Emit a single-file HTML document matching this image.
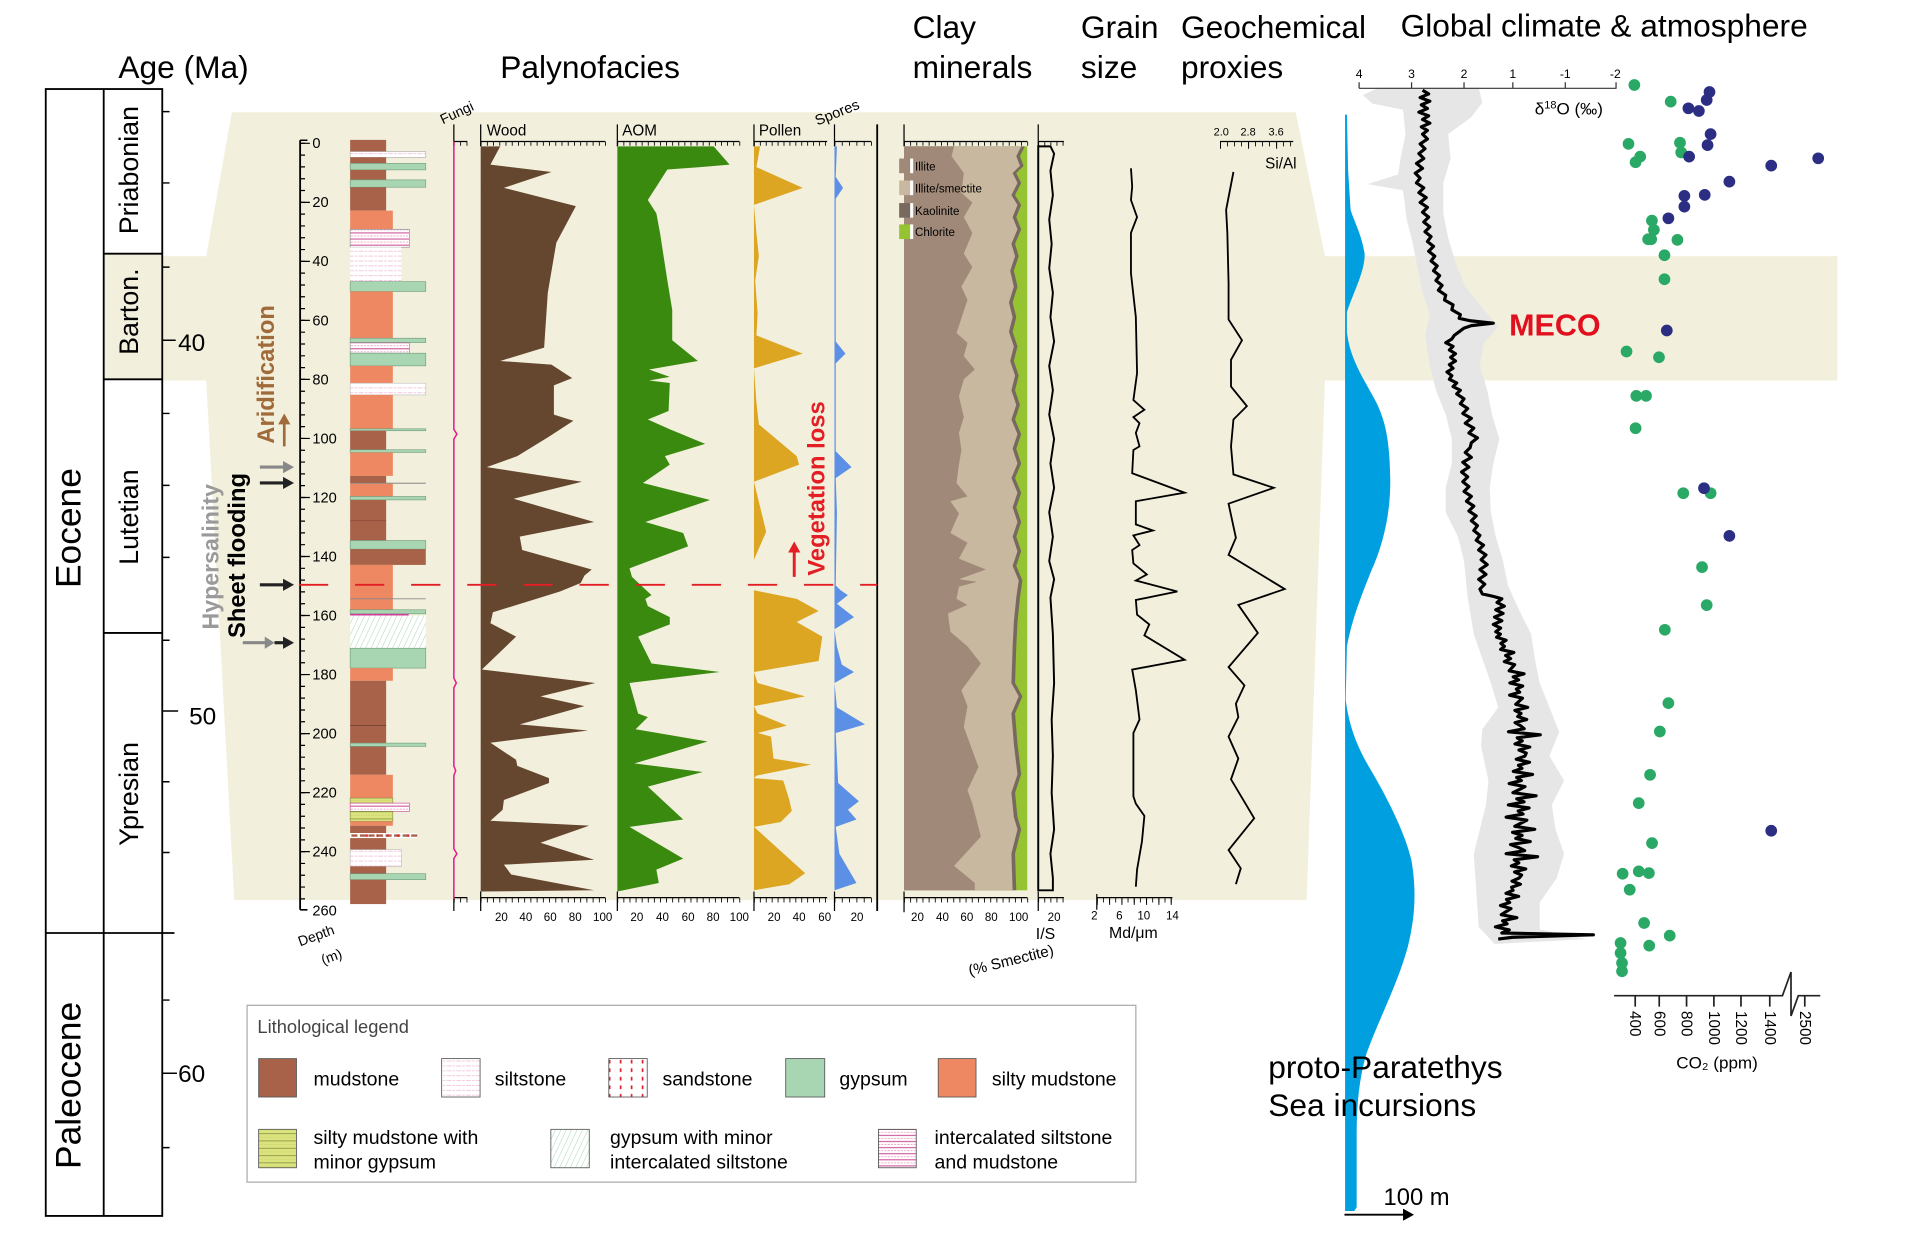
<!DOCTYPE html>
<html><head><meta charset="utf-8">
<style>
html,body{margin:0;padding:0;background:#fff;}
svg{display:block;}
text{font-family:"Liberation Sans",Arial,sans-serif;fill:#000;}
</style></head>
<body>
<svg width="1913" height="1233" viewBox="0 0 1568 1011" preserveAspectRatio="none" xmlns="http://www.w3.org/2000/svg">
<defs>
<pattern id="pSilt" width="8" height="4" patternUnits="userSpaceOnUse"><rect width="8" height="4" fill="#fff"/><line x1="0" y1="2" x2="8" y2="2" stroke="#f0b6d2" stroke-width="0.6" stroke-dasharray="2 1"/></pattern>
<pattern id="pInter" width="8" height="5" patternUnits="userSpaceOnUse"><rect width="8" height="5" fill="#fff"/><line x1="0" y1="1" x2="8" y2="1" stroke="#c8408c" stroke-width="0.8"/><line x1="0" y1="3.5" x2="8" y2="3.5" stroke="#e79ac3" stroke-width="0.6" stroke-dasharray="1.5 1"/></pattern>
<pattern id="pSand" width="9" height="7" patternUnits="userSpaceOnUse"><rect width="9" height="7" fill="#fff"/><rect x="4" y="1" width="1.4" height="3" fill="#e0202a"/></pattern>
<pattern id="pGS" width="4" height="4" patternUnits="userSpaceOnUse" patternTransform="rotate(25)"><rect width="4" height="4" fill="#fff"/><line x1="0" y1="0" x2="0" y2="4" stroke="#9ccfac" stroke-width="0.7"/></pattern>
<pattern id="pSMG" width="8" height="6" patternUnits="userSpaceOnUse"><rect width="8" height="6" fill="#dbe37f"/><line x1="0" y1="5.5" x2="8" y2="5.5" stroke="#7d8a3a" stroke-width="0.6"/><line x1="0" y1="2.5" x2="8" y2="2.5" stroke="#b9c45e" stroke-width="0.4" stroke-dasharray="1 1"/></pattern>
</defs>

<!-- beige background -->
<polygon points="190,92 1062,92 1086,210 1506,210 1506,312 1086,312 1071,738 192,738 169,312 133,312 133,210 169,210" fill="#f2f0dc"/>

<!-- Titles -->
<g font-size="26">
<text x="97" y="64">Age (Ma)</text>
<text x="410" y="64">Palynofacies</text>
<text x="748" y="31">Clay</text><text x="748" y="64">minerals</text>
<text x="886" y="31">Grain</text><text x="886" y="64">size</text>
<text x="968" y="31">Geochemical</text><text x="968" y="64">proxies</text>
<text x="1148" y="30">Global climate &amp; atmosphere</text>
</g>

<!-- Age column -->
<rect x="85" y="208" width="48" height="103" fill="#f2f0dc"/>
<g stroke="#000" stroke-width="1.5" fill="none">
<rect x="37.5" y="73" width="95.5" height="924"/>
<line x1="85" y1="73" x2="85" y2="997"/>
<line x1="85" y1="208" x2="133" y2="208"/>
<line x1="85" y1="311" x2="133" y2="311"/>
<line x1="85" y1="519" x2="133" y2="519"/>
<line x1="37.5" y1="765" x2="143" y2="765"/>
</g>
<g stroke="#000" stroke-width="1.2">
<path d="M133,91.5h6M133,150h6M133,219h6M133,339h6M133,398h6M133,457h6M133,525h6M133,641h6M133,699h6M133,820h6M133,941h6"/>
<path d="M133,279h11M133,583h13M133,880h12"/>
</g>
<g font-size="20">
<text x="146" y="288">40</text>
<text x="155" y="594">50</text>
<text x="146" y="887">60</text>
</g>
<g font-size="29">
<text transform="translate(66,433) rotate(-90)" text-anchor="middle">Eocene</text>
<text transform="translate(66,890) rotate(-90)" text-anchor="middle">Paleocene</text>
</g>
<g font-size="22">
<text transform="translate(113,139.5) rotate(-90)" text-anchor="middle">Priabonian</text>
<text transform="translate(113,255.5) rotate(-90)" text-anchor="middle">Barton.</text>
<text transform="translate(113,424) rotate(-90)" text-anchor="middle">Lutetian</text>
<text transform="translate(113,651) rotate(-90)" text-anchor="middle">Ypresian</text>
</g>

<!-- Side annotations -->
<text transform="translate(224.5,307) rotate(-90)" text-anchor="middle" font-size="19.5" font-weight="bold" style="fill:#a06a3a">Aridification</text>
<g stroke="#a06a3a" stroke-width="2.2" fill="#a06a3a"><line x1="233" y1="366" x2="233" y2="347"/><polygon points="228,348 238,348 233,339" stroke="none"/></g>
<text transform="translate(179,456.5) rotate(-90)" text-anchor="middle" font-size="19" font-weight="bold" style="fill:#9a9a9a">Hypersalinity</text>
<text transform="translate(201,455.5) rotate(-90)" text-anchor="middle" font-size="19.5" font-weight="bold">Sheet flooding</text>
<g stroke-width="2.6">
<line x1="213" y1="383" x2="233" y2="383" stroke="#888"/><polygon points="232,378 241,383 232,388" fill="#888"/>
<line x1="213" y1="396" x2="233" y2="396" stroke="#222"/><polygon points="232,391 241,396 232,401" fill="#222"/>
<line x1="213" y1="479.5" x2="233" y2="479.5" stroke="#222"/><polygon points="232,474.5 241,479.5 232,484.5" fill="#222"/>
<line x1="199" y1="527" x2="218" y2="527" stroke="#888"/><polygon points="217,522 225,527 217,532" fill="#888"/>
<line x1="225" y1="527" x2="233" y2="527" stroke="#222"/><polygon points="232,522 241,527 232,532" fill="#222"/>
</g>

<!-- Depth axis -->
<g stroke="#000" fill="none">
<line x1="246" y1="115" x2="246" y2="746" stroke-width="1.5"/>
<path d="M246,115h6M246,746h6" stroke-width="1.3"/>
<line x1="248" y1="117" x2="248" y2="746" stroke-width="4" stroke-dasharray="1 8.68"/>
<line x1="250" y1="117" x2="250" y2="746" stroke-width="8" stroke-dasharray="1 47.4"/>
</g>
<g font-size="12">
<text x="256" y="121.5">0</text><text x="256" y="169.9">20</text><text x="256" y="218.3">40</text><text x="256" y="266.7">60</text><text x="256" y="315.1">80</text><text x="256" y="363.5">100</text><text x="256" y="411.9">120</text><text x="256" y="460.3">140</text><text x="256" y="508.7">160</text><text x="256" y="557.1">180</text><text x="256" y="605.5">200</text><text x="256" y="653.9">220</text><text x="256" y="702.3">240</text><text x="256" y="750.7">260</text>
</g>
<text transform="translate(246,776) rotate(-20)" font-size="11.5">Depth</text>
<text transform="translate(265,791) rotate(-20)" font-size="11.5">(m)</text>

<!-- Lithology -->
<g stroke-width="0.5">
<rect x="287" y="114.7" width="29.5" height="9.6" fill="#a8624a"/>
<rect x="287" y="124.3" width="62" height="4.7" fill="url(#pSilt)" stroke="#aaa"/>
<rect x="287" y="129" width="29.5" height="5" fill="#a8624a"/>
<rect x="287" y="134" width="62" height="5.3" fill="#a8d6b2" stroke="#6e9a7a"/>
<rect x="287" y="139.3" width="29.5" height="8.2" fill="#a8624a"/>
<rect x="287" y="147.5" width="62" height="6" fill="#a8d6b2" stroke="#6e9a7a"/>
<rect x="287" y="153.5" width="29.5" height="19.2" fill="#a8624a"/>
<rect x="287" y="172.7" width="35" height="15.3" fill="#ee8862"/>
<rect x="287" y="188" width="48.5" height="14.7" fill="url(#pInter)" stroke="#888"/>
<rect x="287" y="202.7" width="42" height="28.2" fill="url(#pSilt)"/>
<rect x="287" y="230.9" width="62" height="8.1" fill="#a8d6b2" stroke="#6e9a7a"/>
<rect x="287" y="239" width="35" height="38.3" fill="#ee8862"/>
<rect x="287" y="277.3" width="62" height="3.6" fill="#a8d6b2" stroke="#6e9a7a"/>
<rect x="287" y="280.9" width="48.5" height="8.7" fill="url(#pInter)" stroke="#888"/>
<rect x="287" y="289.6" width="62" height="10.4" fill="#a8d6b2" stroke="#6e9a7a"/>
<rect x="287" y="300" width="35" height="14.2" fill="#ee8862"/>
<rect x="287" y="314.2" width="62" height="9.6" fill="url(#pSilt)" stroke="#bbb"/>
<rect x="287" y="323.8" width="35" height="27.8" fill="#ee8862"/>
<rect x="287" y="351.6" width="62" height="1.6" fill="#a8d6b2" stroke="#6e9a7a"/>
<rect x="287" y="353.2" width="29.5" height="15.6" fill="#a8624a"/>
<rect x="287" y="368.8" width="62" height="2.2" fill="#a8d6b2" stroke="#6e9a7a"/>
<rect x="287" y="371" width="35" height="19.2" fill="#ee8862"/>
<rect x="287" y="390.2" width="29.5" height="6" fill="#a8624a"/>
<line x1="287" y1="396.2" x2="349" y2="396.2" stroke="#777" stroke-width="0.8"/>
<rect x="287" y="396.6" width="35" height="10.5" fill="#ee8862"/>
<rect x="287" y="407.1" width="62" height="2.8" fill="#a8d6b2" stroke="#6e9a7a"/>
<rect x="287" y="409.9" width="29.5" height="33.3" fill="#a8624a"/>
<line x1="287" y1="427" x2="316.5" y2="427" stroke="#8a4a36" stroke-width="0.6"/>
<rect x="287" y="443.2" width="62" height="7.1" fill="#a8d6b2" stroke="#6e9a7a"/>
<rect x="287" y="450.3" width="62" height="12.9" fill="#a8624a"/>
<rect x="287" y="463.2" width="35" height="36.8" fill="#ee8862"/>
<line x1="287" y1="491" x2="349" y2="491" stroke="#888" stroke-width="0.8"/>
<rect x="287" y="500" width="62" height="3.3" fill="#a8d6b2" stroke="#6e9a7a"/>
<rect x="287" y="503.3" width="48" height="1.4" fill="#d0409a"/>
<rect x="287" y="504.7" width="62" height="26.8" fill="url(#pGS)"/>
<rect x="287" y="531.5" width="62" height="16.3" fill="#a8d6b2" stroke="#6e9a7a"/>
<rect x="287" y="547.8" width="35" height="10.4" fill="#ee8862"/>
<rect x="287" y="558.2" width="29.5" height="77.1" fill="#a8624a"/>
<line x1="287" y1="594.8" x2="316.5" y2="594.8" stroke="#6e3a2a" stroke-width="0.6"/>
<rect x="287" y="609.3" width="62" height="2.7" fill="#a8d6b2" stroke="#6e9a7a"/>
<rect x="287" y="635.3" width="35" height="19.1" fill="#ee8862"/>
<rect x="287" y="654.4" width="35" height="4.1" fill="url(#pSMG)" stroke="#7d8a3a"/>
<rect x="287" y="658.5" width="48.5" height="6.8" fill="url(#pInter)" stroke="#c8408c"/>
<rect x="287" y="665.3" width="35" height="8.2" fill="url(#pSMG)" stroke="#7d8a3a"/>
<rect x="287" y="673.5" width="35" height="3.6" fill="#ee8862"/>
<rect x="287" y="677.1" width="29.5" height="6" fill="#a8624a"/>
<rect x="287" y="683.1" width="55" height="4.1" fill="#fff"/>
<line x1="288" y1="685.1" x2="342" y2="685.1" stroke="#a8624a" stroke-width="2" stroke-dasharray="5 2"/>
<line x1="300" y1="685.1" x2="342" y2="685.1" stroke="#e0202a" stroke-width="2" stroke-dasharray="1.5 7"/>
<rect x="287" y="687.2" width="29.5" height="9.5" fill="#a8624a"/>
<rect x="287" y="696.7" width="42" height="13.7" fill="url(#pSilt)" stroke="#bbb"/>
<rect x="287" y="710.4" width="29.5" height="6" fill="#a8624a"/>
<rect x="287" y="716.4" width="62" height="4.9" fill="#a8d6b2" stroke="#6e9a7a"/>
<rect x="287" y="721.3" width="29.5" height="20" fill="#a8624a"/>
</g>

<!-- Column header rulers and axes -->
<g stroke="#000" stroke-width="1" fill="none">
<path d="M372,102V120M394,102V120M506,102V120M618,102V120M684,102V120M741,102V120M851,102V120"/>
<path d="M372,116H383M394,116H496M506,116H606M618,116H678M684,116H714M741,116H842M851,116H872"/>
<line x1="372" y1="117.8" x2="384" y2="117.8" stroke-width="3.5" stroke-dasharray="0.7 4.5"/>
<line x1="394" y1="117.8" x2="497" y2="117.8" stroke-width="3.5" stroke-dasharray="0.7 4.4"/>
<line x1="506" y1="117.8" x2="607" y2="117.8" stroke-width="3.5" stroke-dasharray="0.7 4.3"/>
<line x1="618" y1="117.8" x2="679" y2="117.8" stroke-width="3.5" stroke-dasharray="0.7 4.15"/>
<line x1="684" y1="117.8" x2="715" y2="117.8" stroke-width="3.5" stroke-dasharray="0.7 5.3"/>
<line x1="741" y1="117.8" x2="843" y2="117.8" stroke-width="3.5" stroke-dasharray="0.7 4.35"/>
<line x1="851" y1="117.8" x2="873" y2="117.8" stroke-width="3.5" stroke-dasharray="0.7 4.3"/>
<line x1="719" y1="102" x2="719" y2="747" stroke-width="1.5"/>
<!-- bottom rulers -->
<path d="M372,731V747M394,731V747M506,731V747M618,731V747M684,731V747M741,731V748M851,731V747M899,733V746"/>
<path d="M372,736H383M394,736H496M506,736H606M618,736H678M684,736H714M741,736H842M851,736H872M899,736H961"/>
<line x1="372" y1="738" x2="384" y2="738" stroke-width="4" stroke-dasharray="0.7 4.5"/>
<line x1="394" y1="738" x2="497" y2="738" stroke-width="4" stroke-dasharray="0.7 4.4"/>
<line x1="506" y1="738" x2="607" y2="738" stroke-width="4" stroke-dasharray="0.7 4.3"/>
<line x1="618" y1="738" x2="679" y2="738" stroke-width="4" stroke-dasharray="0.7 4.15"/>
<line x1="684" y1="738" x2="715" y2="738" stroke-width="4" stroke-dasharray="0.7 5.3"/>
<line x1="741" y1="738" x2="843" y2="738" stroke-width="4" stroke-dasharray="0.7 4.35"/>
<line x1="851" y1="738" x2="873" y2="738" stroke-width="4" stroke-dasharray="0.7 4.3"/>
<line x1="899" y1="738" x2="962" y2="738" stroke-width="4" stroke-dasharray="0.7 4.35"/>
<line x1="899" y1="739" x2="962" y2="739" stroke-width="6" stroke-dasharray="0.8 9.3"/>
</g>
<g font-size="12.5">
<text transform="translate(363,102) rotate(-25)" font-size="11.5">Fungi</text>
<text x="399" y="111">Wood</text>
<text x="510" y="111">AOM</text>
<text x="622" y="111">Pollen</text>
<text transform="translate(670,103) rotate(-22)" font-size="12">Spores</text>
</g>
<g font-size="9.5" text-anchor="middle">
<text x="411" y="755">20</text><text x="431" y="755">40</text><text x="451" y="755">60</text><text x="471.5" y="755">80</text><text x="494" y="755">100</text>
<text x="522" y="755">20</text><text x="543" y="755">40</text><text x="564" y="755">60</text><text x="584.5" y="755">80</text><text x="606" y="755">100</text>
<text x="634.5" y="755">20</text><text x="655" y="755">40</text><text x="676" y="755">60</text>
<text x="702.5" y="755">20</text>
<text x="752" y="755">20</text><text x="772.5" y="755">40</text><text x="792.5" y="755">60</text><text x="812.5" y="755">80</text><text x="835" y="755">100</text>
<text x="864" y="755">20</text>
<text x="897" y="754">2</text><text x="917.5" y="754">6</text><text x="937.5" y="754">10</text><text x="961" y="754">14</text>
</g>
<text x="849" y="770" font-size="13">I/S</text>
<text x="909" y="769" font-size="13">Md/μm</text>
<text transform="translate(795,800) rotate(-14)" font-size="12.5">(% Smectite)</text>

<!-- Fungi -->
<path d="M372,116V352L374.5,356L372,360V556L374,560L372,564V628L373.5,632L372,636V696L374.5,700L372,704V737" stroke="#e4248c" stroke-width="1.3" fill="none"/>

<!-- Wood -->
<polygon fill="#65462f" points="394,120 410,120 402,135 452,141 413,154 472,169 456,199 449,240 446,285 410,296 452,299 469,310 454,316 454,340 470,345 450,358 424,374 399,383 477,395 421,409 487,428 426,440 428,451 485,467 479,472 476,478 459,485 404,502 402,511 423,522 395,549 488,560 443,571 479,579 426,594 482,599 402,609 423,623 424,628 450,638 450,642 413,656 412,664 402,673 483,677 443,691 487,705 413,709 419,717 487,730 394,731"/>

<!-- AOM -->
<polygon fill="#3a8a10" points="506,120 585,120 598,135 574,137 547,139 531,164 538,175 541,191 547,230 551,254 551,279 572,296 532,303 549,309 532,312 549,314 548,337 531,344 549,352 578,364 545,374 549,381 527,396 582,410 529,428 560,437 564,448 516,466 518,473 534,488 529,491 531,497 549,506 549,512 523,522 534,544 590,551 516,560 523,585 531,588 521,598 580,608 520,626 576,633 531,645 560,672 516,678 560,704 538,713 540,724 506,731"/>

<!-- Pollen -->
<polygon fill="#dca623" points="618,120 623,120 620,137 658,154 618,168 620,191 622,210 619,230 621,257 620,275 658,290 618,302 620,330 622,348 653,374 655,381 618,395 628,436 618,459 618,484 653,491 671,501 653,510 674,522 671,542 618,551 621,560 660,571 618,579 621,585 645,595 621,601 632,604 634,622 665,627 620,636 618,638 642,640 647,656 649,665 640,674 618,678 660,716 647,725 618,730"/>

<!-- Spores -->
<polygon fill="#5c8fe6" points="684,120 686,120 685,145 691,154 685,163 685,280 693,290 685,298 685,370 698,383 685,392 686,420 685,480 689,484 695,488 686,495 700,506 684,516 686,530 690,545 700,551 684,560 686,580 709,594 685,601 687,642 704,657 695,664 702,672 685,678 688,700 702,724 684,730"/>

<!-- vertical red dashed -->
<line x1="245" y1="479.5" x2="719" y2="479.5" stroke="#e31e24" stroke-width="1.5" stroke-dasharray="24 22"/>
<g stroke="#e31e24" fill="#e31e24"><line x1="651" y1="473" x2="651" y2="452" stroke-width="2.4"/><polygon points="646,453 656,453 651,444" stroke="none"/></g>
<text transform="translate(676,400.5) rotate(-90)" text-anchor="middle" font-size="19.5" font-weight="bold" style="fill:#e31e24">Vegetation loss</text>

<!-- Clay minerals -->
<rect x="741" y="120" width="101" height="610" fill="#96c332"/>
<polygon fill="#78695f" points="741,120 840,120 836,128 839,136 833,142 837,150 832,160 837,168 833,178 837,188 832,200 835,210 831,222 834,235 830,248 833,260 830,272 834,284 831,296 835,308 832,320 836,332 832,344 837,356 833,368 837,380 832,392 837,404 833,416 837,428 833,440 837,452 833,464 838,476 836,490 834,510 833,530 832,560 838,571 832,585 834,610 837,635 832,650 834,670 837,680 832,700 833,730 741,730"/>
<polygon fill="#c8b8a0" points="741,120 837,120 833,128 836,136 830,142 834,150 829,160 834,168 830,178 834,188 829,200 832,210 828,222 831,235 827,248 830,260 827,272 831,284 828,296 832,308 829,320 833,332 829,344 834,356 830,368 834,380 829,392 834,404 830,416 834,428 830,440 834,452 830,464 835,476 833,490 831,510 830,530 829,560 835,571 829,585 831,610 834,635 829,650 831,670 834,680 829,700 830,730 741,730"/>
<polygon fill="#a08978" points="741,120 782,120 780,128 790,142 788,158 797,166 790,178 797,191 790,208 797,219 788,235 793,246 784,273 793,281 790,292 799,303 790,311 786,325 790,342 786,355 788,369 786,381 784,396 793,407 779,411 786,421 779,437 793,445 786,458 808,467 786,475 801,477 786,481 784,491 793,496 777,503 779,518 793,530 804,544 788,566 793,579 790,596 802,629 793,648 797,659 804,686 782,710 799,724 799,730 741,730"/>
<!-- clay legend -->
<g>
<rect x="737" y="130" width="11" height="12" fill="#a08978"/><rect x="746" y="130" width="2.5" height="12" fill="#fff"/>
<rect x="737" y="148" width="11" height="12" fill="#c8b8a0"/><rect x="746" y="148" width="2.5" height="12" fill="#fff"/>
<rect x="737" y="166.5" width="11" height="12" fill="#78695f"/><rect x="746" y="166.5" width="2.5" height="12" fill="#fff"/>
<rect x="737" y="184" width="11" height="12" fill="#96c332"/><rect x="746" y="184" width="2.5" height="12" fill="#fff"/>
</g>
<g font-size="9.5" style="fill:#222">
<text x="750" y="140">Illite</text>
<text x="750" y="158">Illite/smectite</text>
<text x="750" y="176.5">Kaolinite</text>
<text x="750" y="193.5">Chlorite</text>
</g>

<!-- I/S -->
<path d="M851,730V120H861L864,126L861,140L863,160L860,180L862,200L860,220L863,240L861,260L864,280L860,300L863,320L860,340L864,360L861,380L864,400L860,420L863,440L860,460L864,475L861,490L863,520L864,560L862,590L863,620L862,650L864,680L861,700L863,720L863,730Z" fill="none" stroke="#000" stroke-width="1.6"/>

<!-- Grain size -->
<polyline fill="none" stroke="#000" stroke-width="1.5" points="927,138 928,153 927,164 932,178 927,191 927,224 931,260 932,306 929,328 938,336 929,342 934,347 931,355 934,366 929,369 928,388 971,404 931,411 931,430 945,435 929,439 934,447 928,451 929,462 940,471 931,476 965,485 931,492 932,504 942,512 938,521 971,541 928,549 931,566 934,590 929,601 929,653 931,659 938,669 936,690 932,713 931,727"/>

<!-- Si/Al -->
<polyline fill="none" stroke="#000" stroke-width="1.5" points="1011,141 1005,172 1006,191 1007,232 1007,262 1018,279 1009,295 1009,317 1022,333 1011,344 1009,366 1011,389 1044,400 1007,413 1013,441 1007,455 1053,483 1015,496 1031,519 1007,547 1020,562 1013,577 1015,588 1007,604 1015,622 1009,639 1028,671 1007,697 1017,712 1013,725"/>
<g stroke="#000" fill="none">
<path d="M1000,116H1060" stroke-width="1"/>
<line x1="1000" y1="118" x2="1061" y2="118" stroke-width="4" stroke-dasharray="0.7 5.05"/>
<line x1="1000" y1="119" x2="1061" y2="119" stroke-width="6" stroke-dasharray="0.8 22.2"/>
</g>
<g font-size="9" text-anchor="middle"><text x="1001" y="111">2.0</text><text x="1023" y="111">2.8</text><text x="1046" y="111">3.6</text></g>
<text x="1037" y="138" font-size="12.5">Si/Al</text>

<!-- Sea incursion shape -->
<path fill="#009fe0" d="M1102.5,94 L1104,94 L1105,140 L1107,172 C1110,182 1116,192 1118.5,208 C1119,222 1110,238 1104,256 L1104,272 C1106,292 1116,308 1126,326 C1136,344 1139,362 1139.5,392 C1140,420 1134,446 1124,468 C1116,488 1108,508 1104,530 L1103,574 C1106,596 1112,612 1124,632 C1138,656 1152,684 1157,706 C1161,730 1160,752 1154,776 C1146,806 1130,836 1120,864 C1114,884 1112,906 1112,930 L1112,990 L1110,993 L1102.5,993 Z"/>
<line x1="1102" y1="996" x2="1152" y2="996" stroke="#000" stroke-width="1.6"/>
<polygon points="1150,991 1159,996 1150,1001" fill="#000"/>
<text x="1134" y="988" font-size="19.5">100 m</text>
<g font-size="26">
<text x="1039.5" y="884">proto-Paratethys</text>
<text x="1039.5" y="915">Sea incursions</text>
</g>

<!-- d18O envelope -->
<polygon fill="#e6e6e6" points="1130,72 1117,78 1125,85 1150,90 1152,110 1148,130 1146,143 1121,151 1150,156 1153,180 1158,200 1162,220 1166,240 1172,258 1168,275 1172,300 1177,320 1185,340 1190,360 1190,380 1185,400 1185,420 1195,440 1200,460 1203,490 1208,520 1215,540 1222,560 1228,580 1215,598 1214,612 1220,640 1218,660 1213,680 1208,700 1210,730 1212,760 1225,774 1300,770 1262,762 1262,740 1276,720 1282,700 1275,680 1272,660 1282,640 1270,620 1278,600 1270,580 1262,560 1258,540 1255,520 1245,500 1236,480 1232,460 1226,440 1222,420 1221,400 1224,380 1229,360 1223,340 1219,320 1213,300 1216,282 1228,268 1213,250 1201,235 1193,215 1187,195 1183,175 1183,150 1189,130 1187,110 1206,96 1215,84 1212,72"/>
<!-- d18O line -->
<polyline fill="none" stroke="#000" stroke-width="2.6" stroke-linejoin="round" points="1166,74 1171,77 1164,80 1172,83 1165,86 1170,89 1163,92 1171,95 1166,98 1172,101 1165,104 1170,107 1166,110 1170,114 1164,118 1168,122 1163,126 1167,130 1161,134 1166,138 1160,142 1164,146 1161,150 1167,154 1163,158 1169,162 1164,166 1170,170 1166,174 1171,178 1167,182 1172,186 1168,190 1173,194 1170,198 1175,202 1171,206 1176,210 1173,214 1178,218 1175,222 1180,226 1177,230 1182,234 1179,238 1185,242 1184,246 1191,250 1190,254 1197,258 1196,261 1205,263 1224,265 1206,267 1200,269 1196,272 1192,275 1190,278 1185,281 1191,284 1188,287 1193,290 1189,293 1193,296 1188,299 1191,302 1186,305 1190,308 1188,311 1194,314 1191,317 1197,320 1194,323 1200,327 1197,331 1203,335 1199,339 1206,343 1201,347 1208,351 1204,355 1211,359 1206,363 1205,367 1201,371 1206,375 1199,379 1204,383 1198,387 1203,391 1199,395 1204,399 1200,403 1206,407 1202,411 1208,415 1204,419 1210,423 1206,427 1211,431 1208,435 1213,439 1210,443 1216,447 1212,451 1218,455 1214,459 1219,463 1213,467 1218,471 1212,475 1217,479 1213,483 1215,487 1224,489 1231,491 1227,494 1233,497 1226,500 1232,503 1225,506 1231,509 1224,512 1230,515 1226,518 1229.8,520 1226.7,522.5 1234.5,525 1230.2,527.5 1233.1,530 1230,532.5 1240.8,535 1234.1,537.5 1238.2,540 1233,542.5 1241.5,545 1239.3,547.5 1237,550 1249.2,552.5 1240.3,555 1244.7,557.5 1237.6,560 1248.1,562.5 1242.9,565 1245.6,567.5 1237.4,570 1247.9,572.5 1245.1,575 1242.4,577.5 1252.2,580 1241.7,582.5 1246.7,585 1244,587.5 1251.4,590 1241.8,592.5 1246.2,595 1249.3,597.5 1236.4,600 1262.5,602.5 1243.6,605 1247.7,607.5 1241.8,610 1253.9,612.5 1245,615 1251,617.5 1249.9,620 1242.8,622.5 1253.7,625 1244.6,627.5 1247.5,630 1240.4,632.5 1256.2,635 1243.1,637.5 1247,640 1237,642.5 1250,645 1245.1,647.5 1240.1,650 1259.1,652.5 1243.2,655 1249.2,657.5 1236.3,660 1253.3,662.5 1244.4,665 1248.4,667.5 1234.5,670 1251.5,672.5 1246.6,675 1241.6,677.5 1258,680 1239.8,682.5 1247.6,685 1242.4,687.5 1254.3,690 1238.1,692.5 1244.9,695 1249.7,697.5 1234.5,700 1260.3,702.5 1241.1,705 1244.9,707.5 1238.8,710 1250.6,712.5 1241.4,715 1247.2,717.5 1245.1,720 1239.3,722.5 1246.2,725 1239,727.5 1240.2,730 1234.4,732.5 1244.8,735 1234.8,737.5 1237.4,740 1229.9,742.5 1238.5,745 1234.5,747.5 1230.5,750 1243.3,752.5 1231.6,755 1235.3,757.5 1225.7,760 1237.1,762.5 1231,765 1306,766.5 1240,768.5 1228,770"/>

<!-- d18O axis -->
<g stroke="#333" stroke-width="1" fill="none">
<line x1="1114" y1="72.4" x2="1325" y2="72.4"/>
<path d="M1114,72.4v-5M1157,72.4v-5M1200,72.4v-5M1240,72.4v-5M1283,72.4v-5M1324.6,72.4v-5"/>
</g>
<g font-size="10" text-anchor="middle" style="fill:#333">
<text x="1114" y="64">4</text><text x="1157" y="64">3</text><text x="1200" y="64">2</text><text x="1240" y="64">1</text><text x="1283" y="64">-1</text><text x="1324" y="64">-2</text>
</g>
<text x="1258" y="94" font-size="14">δ<tspan font-size="9" dy="-5">18</tspan><tspan dy="5">O (‰)</tspan></text>

<text x="1237" y="275" font-size="25" font-weight="bold" style="fill:#e0101e">MECO</text>

<!-- CO2 points -->
<g fill="#2aa865">
<circle cx="1339.6" cy="69.7" r="4.8"/><circle cx="1369.4" cy="83.3" r="4.8"/><circle cx="1334.8" cy="118" r="4.8"/><circle cx="1377" cy="117" r="4.8"/><circle cx="1378" cy="125" r="4.8"/><circle cx="1344.4" cy="128.4" r="4.8"/><circle cx="1340.6" cy="133" r="4.8"/><circle cx="1354" cy="180.9" r="4.8"/><circle cx="1355.6" cy="188.5" r="4.8"/><circle cx="1350.9" cy="196.2" r="4.8"/><circle cx="1353.4" cy="196.2" r="4.8"/><circle cx="1374.9" cy="196.7" r="4.8"/><circle cx="1364.3" cy="209.3" r="4.8"/><circle cx="1364.3" cy="229" r="4.8"/><circle cx="1333.2" cy="288.2" r="4.8"/><circle cx="1359.8" cy="292.9" r="4.8"/><circle cx="1341.2" cy="324.6" r="4.8"/><circle cx="1349.2" cy="324.6" r="4.8"/><circle cx="1340.6" cy="351.1" r="4.8"/>
<circle cx="1379.7" cy="404.4" r="4.8"/><circle cx="1402.1" cy="404.4" r="4.8"/><circle cx="1395.1" cy="465" r="4.8"/><circle cx="1398.9" cy="496.2" r="4.8"/><circle cx="1364.6" cy="516.4" r="4.8"/><circle cx="1367.5" cy="576.5" r="4.8"/><circle cx="1360.5" cy="599.8" r="4.8"/><circle cx="1352.5" cy="635.3" r="4.8"/><circle cx="1343.2" cy="658.5" r="4.8"/><circle cx="1354.1" cy="691.3" r="4.8"/><circle cx="1330" cy="716.4" r="4.8"/><circle cx="1343.2" cy="714.5" r="4.8"/><circle cx="1351.5" cy="715.9" r="4.8"/><circle cx="1335.8" cy="729.5" r="4.8"/><circle cx="1347.6" cy="756.8" r="4.8"/>
<circle cx="1368.6" cy="767.2" r="4.8"/><circle cx="1351.8" cy="775.4" r="4.8"/><circle cx="1328.3" cy="773.2" r="4.8"/><circle cx="1328.3" cy="781.4" r="4.8"/><circle cx="1329.5" cy="789.6" r="4.8"/><circle cx="1329.5" cy="796.4" r="4.8"/>
</g>
<g fill="#2b2e83">
<circle cx="1401.2" cy="75.4" r="4.8"/><circle cx="1398.9" cy="82" r="4.8"/><circle cx="1383.9" cy="88.8" r="4.8"/><circle cx="1392.5" cy="91" r="4.8"/><circle cx="1402.1" cy="110" r="4.8"/><circle cx="1399.6" cy="119" r="4.8"/><circle cx="1384.5" cy="128.4" r="4.8"/><circle cx="1490.3" cy="129.8" r="4.8"/><circle cx="1451.8" cy="135.8" r="4.8"/><circle cx="1417.5" cy="148.9" r="4.8"/><circle cx="1380.6" cy="160.6" r="4.8"/><circle cx="1397.3" cy="159.8" r="4.8"/><circle cx="1380.6" cy="169.4" r="4.8"/><circle cx="1367.5" cy="179" r="4.8"/><circle cx="1366.2" cy="271" r="4.8"/>
<circle cx="1396.7" cy="400.3" r="4.8"/><circle cx="1417.5" cy="439.4" r="4.8"/><circle cx="1451.8" cy="681.2" r="4.8"/>
</g>

<!-- CO2 axis -->
<g stroke="#222" stroke-width="1.4" fill="none">
<path d="M1323,816.4H1461L1468,797L1468,833L1474,816.4H1492"/>
<path d="M1340.3,816.4v9M1360,816.4v9M1382.4,816.4v9M1404.8,816.4v9M1427,816.4v9M1450.6,816.4v9M1479.3,816.4v9"/>
</g>
<g font-size="12.5">
<text transform="translate(1336,829) rotate(90)">400</text>
<text transform="translate(1356,829) rotate(90)">600</text>
<text transform="translate(1378.4,829) rotate(90)">800</text>
<text transform="translate(1400.8,829) rotate(90)">1000</text>
<text transform="translate(1423,829) rotate(90)">1200</text>
<text transform="translate(1446.6,829) rotate(90)">1400</text>
<text transform="translate(1475.3,829) rotate(90)">2500</text>
</g>
<text x="1374" y="876" font-size="14">CO₂ (ppm)</text>

<!-- Lithological legend -->
<rect x="202.5" y="824.3" width="728.5" height="145" fill="#fff" stroke="#aaa" stroke-width="1"/>
<text x="211" y="847" font-size="15" style="fill:#444">Lithological legend</text>
<g stroke="#555" stroke-width="0.7">
<rect x="212" y="868" width="31" height="31.5" fill="#a8624a"/>
<rect x="362" y="868" width="31.5" height="31.5" fill="url(#pSilt)"/>
<rect x="499" y="868" width="31.5" height="31.5" fill="url(#pSand)"/>
<rect x="644" y="868" width="32" height="31.5" fill="#a8d6b2"/>
<rect x="769" y="868" width="31" height="31.5" fill="#ee8862"/>
<rect x="212" y="926" width="31" height="31.5" fill="url(#pSMG)"/>
<rect x="451.5" y="926" width="31.5" height="31.5" fill="url(#pGS)"/>
<rect x="720" y="926" width="31" height="31.5" fill="url(#pInter)"/>
</g>
<g font-size="16" style="fill:#222">
<text x="257" y="890">mudstone</text>
<text x="405.5" y="890">siltstone</text>
<text x="543" y="890">sandstone</text>
<text x="688" y="890">gypsum</text>
<text x="813" y="890">silty mudstone</text>
<text x="257" y="938">silty mudstone with</text>
<text x="257" y="958">minor gypsum</text>
<text x="500" y="938">gypsum with minor</text>
<text x="500" y="958">intercalated siltstone</text>
<text x="766" y="938">intercalated siltstone</text>
<text x="766" y="958">and mudstone</text>
</g>
</svg>
</body></html>
